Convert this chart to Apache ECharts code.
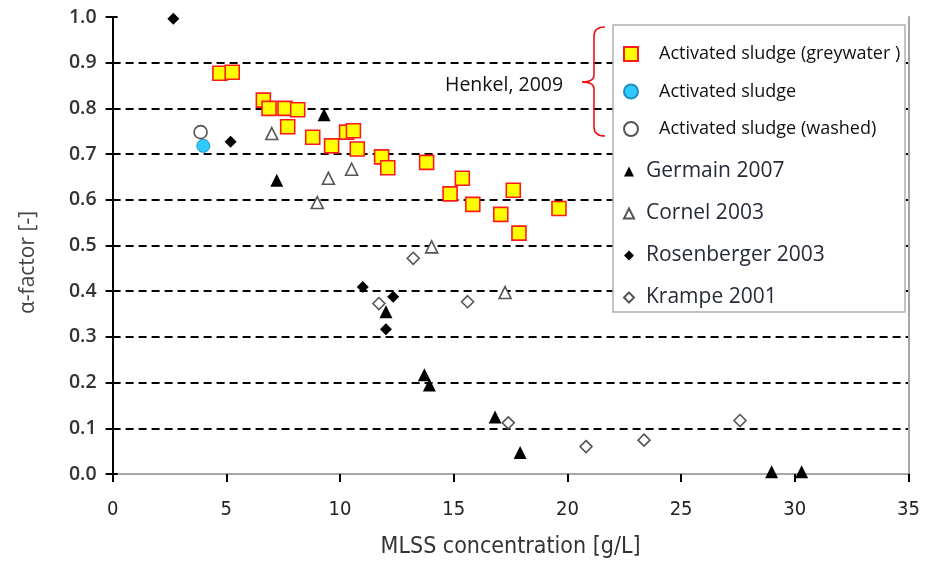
<!DOCTYPE html>
<html>
<head>
<meta charset="utf-8">
<script src="https://cdn.jsdelivr.net/npm/echarts@6/dist/echarts.min.js"></script>
<style>
  html, body { margin: 0; padding: 0; background: #fff; }
  #chart { width: 942px; height: 564px; }
</style>
</head>
<body>
<div id="chart"></div>
<script>
// x ticks / y ticks
var xTicks = [0, 5, 10, 15, 20, 25, 30, 35];
var yTicks = [0, 0.1, 0.2, 0.3, 0.4, 0.5, 0.6, 0.7, 0.8, 0.9, 1.0];

// Henkel, 2009
var greywater = [
  [4.72, 0.877], [5.26, 0.879], [6.63, 0.818], [6.88, 0.800], [7.58, 0.800],
  [8.14, 0.797], [7.70, 0.760], [8.80, 0.737], [9.63, 0.718], [10.29, 0.748],
  [10.59, 0.751], [10.76, 0.711], [11.83, 0.694], [12.10, 0.670], [13.81, 0.682],
  [15.38, 0.647], [14.84, 0.613], [15.84, 0.590], [17.62, 0.621], [17.07, 0.568],
  [17.87, 0.527], [19.63, 0.581]
];
var sludge = [[3.99, 0.718]];
var washed = [[3.87, 0.748]];

// literature
var germain = [
  [9.30, 0.786], [7.22, 0.643], [12.02, 0.355], [13.71, 0.217], [13.93, 0.195],
  [16.82, 0.125], [17.92, 0.047], [28.98, 0.005], [30.30, 0.005]
];
var cornel = [
  [7.00, 0.745], [9.49, 0.647], [10.51, 0.667], [9.00, 0.594], [14.03, 0.497],
  [17.26, 0.397]
];
var rosenberger = [
  [2.67, 0.996], [5.19, 0.727], [11.00, 0.409], [12.34, 0.388], [12.02, 0.317]
];
var krampe = [
  [13.22, 0.472], [15.61, 0.377], [11.71, 0.373], [17.40, 0.112], [20.82, 0.060],
  [23.37, 0.074], [27.59, 0.117]
];

var names = [
  "Activated sludge (greywater )",
  "Activated sludge",
  "Activated sludge (washed)",
  "Germain 2007",
  "Cornel 2003",
  "Rosenberger 2003",
  "Krampe 2001"
];

var chart = echarts.init(document.getElementById("chart"));

var bracketStyle = { fill: "none", stroke: "#e8141a", lineWidth: 1.6 };

var option = {
  animation: false,
  grid: { left: 112.6, right: 33.5, top: 17, bottom: 90 },

  // 图例：上面三个（Henkel）+ 下面四个（文献）
  legend: [
    {
      data: names.slice(0, 3),
      orient: "vertical",
      left: 623,
      top: 44,
      padding: 0,
      itemWidth: 14,
      itemHeight: 14,
      itemGap: 17.5,
      textStyle: {
        fontFamily: "Open Sans",
        fontSize: 18,
        color: "#111",
        lineHeight: 20,
        padding: [0, 0, 0, 16]
      }
    },
    {
      data: names.slice(3),
      orient: "vertical",
      left: 623,
      top: 161,
      padding: 0,
      itemWidth: 10,
      itemHeight: 10,
      itemGap: 21,
      textStyle: {
        fontFamily: "Open Sans",
        fontSize: 21,
        color: "#262a3a",
        lineHeight: 20,
        padding: [0, 0, 0, 7]
      }
    }
  ],

  xAxis: [
    {
      type: "value",
      min: 0,
      max: 35,
      interval: 5,
      name: "MLSS concentration [g/L]",
      nameLocation: "middle",
      nameGap: 62,
      nameTextStyle: {
        fontFamily: "Liberation Sans Narrow, DejaVu Sans Condensed, sans-serif",
        fontSize: 23,
        color: "#333"
      },
      axisLine: { lineStyle: { color: "#000", width: 2 } },
      axisTick: { length: 8, lineStyle: { color: "#000", width: 2 } },
      axisLabel: {
        margin: 26,
        fontFamily: "Liberation Sans Narrow, DejaVu Sans Condensed, sans-serif",
        fontSize: 20,
        color: "#222"
      },
      splitLine: { show: false }
    },
    {
      // 上边框
      type: "value",
      position: "top",
      min: 0,
      max: 35,
      interval: 5,
      axisLine: { show: true, lineStyle: { color: "#a6a6a6", width: 2 } },
      axisTick: { show: false },
      axisLabel: { show: false },
      splitLine: { show: false }
    }
  ],

  yAxis: [
    {
      type: "value",
      min: 0,
      max: 1,
      interval: 0.1,
      name: "α-factor [-]",
      nameLocation: "middle",
      nameGap: 74,
      nameTextStyle: {
        fontFamily: "Open Sans",
        fontSize: 21,
        color: "#444",
        padding: [0, 34, 0, 0]
      },
      axisLine: { show: true, lineStyle: { color: "#000", width: 2 } },
      axisTick: { show: true, length: 7, lineStyle: { color: "#000", width: 2 } },
      axisLabel: {
        margin: 16,
        fontFamily: "Open Sans",
        fontWeight: 600,
        fontSize: 19.5,
        color: "#333",
        formatter: function (v) { return v.toFixed(1); }
      },
      splitLine: {
        show: true,
        showMinLine: false,
        showMaxLine: false,
        lineStyle: { color: "#000", width: 2, type: [8, 5] }
      }
    },
    {
      // 内侧刻度
      type: "value",
      position: "left",
      min: 0,
      max: 1,
      interval: 0.1,
      axisLine: { show: false },
      axisTick: { show: true, inside: true, length: 5, lineStyle: { color: "#000", width: 2 } },
      axisLabel: { show: false },
      splitLine: { show: false }
    },
    {
      // 右边框
      type: "value",
      position: "right",
      min: 0,
      max: 1,
      interval: 0.1,
      axisLine: { show: true, lineStyle: { color: "#a6a6a6", width: 2 } },
      axisTick: { show: false },
      axisLabel: { show: false },
      splitLine: { show: false }
    }
  ],

  // 图例外框、Henkel 标注和红色括号
  graphic: [
    {
      type: "rect",
      z: 3,
      shape: { x: 613, y: 25, width: 292, height: 287 },
      style: { fill: "#fff", stroke: "#b0b0b0", lineWidth: 1.5 }
    },
    {
      type: "text",
      z: 5,
      x: 445,
      y: 75,
      style: {
        text: "Henkel, 2009",
        fontFamily: "Open Sans",
        fontSize: 19.5,
        fill: "#111"
      }
    },
    { type: "bezierCurve", z: 5, shape: { x1: 605, y1: 27, x2: 594, y2: 36, cpx1: 594, cpy1: 27 }, style: bracketStyle },
    { type: "line", z: 5, shape: { x1: 594, y1: 36, x2: 594, y2: 75 }, style: bracketStyle },
    { type: "bezierCurve", z: 5, shape: { x1: 594, y1: 75, x2: 582, y2: 82, cpx1: 594, cpy1: 82 }, style: bracketStyle },
    { type: "bezierCurve", z: 5, shape: { x1: 582, y1: 82, x2: 594, y2: 89, cpx1: 594, cpy1: 82 }, style: bracketStyle },
    { type: "line", z: 5, shape: { x1: 594, y1: 89, x2: 594, y2: 127 }, style: bracketStyle },
    { type: "bezierCurve", z: 5, shape: { x1: 594, y1: 127, x2: 605, y2: 136, cpx1: 594, cpy1: 136 }, style: bracketStyle }
  ],

  series: [
    {
      name: names[0],
      type: "scatter",
      symbol: "rect",
      symbolSize: 14,
      itemStyle: { color: "#ffff00", borderColor: "#ff1a1a", borderWidth: 1.6, opacity: 1 },
      data: greywater
    },
    {
      name: names[1],
      type: "scatter",
      symbol: "circle",
      symbolSize: 13,
      itemStyle: { color: "#2ecbff", borderColor: "#1f8fc8", borderWidth: 1, opacity: 1 },
      data: sludge
    },
    {
      name: names[2],
      type: "scatter",
      symbol: "circle",
      symbolSize: 13,
      itemStyle: { color: "#fff", borderColor: "#555", borderWidth: 1.6, opacity: 1 },
      data: washed
    },
    {
      name: names[3],
      type: "scatter",
      symbol: "triangle",
      symbolSize: 13,
      itemStyle: { color: "#000", opacity: 1 },
      data: germain
    },
    {
      name: names[4],
      type: "scatter",
      symbol: "triangle",
      symbolSize: 12,
      itemStyle: { color: "#fff", borderColor: "#555", borderWidth: 1.6, opacity: 1 },
      data: cornel
    },
    {
      name: names[5],
      type: "scatter",
      symbol: "diamond",
      symbolSize: 12,
      itemStyle: { color: "#000", opacity: 1 },
      data: rosenberger
    },
    {
      name: names[6],
      type: "scatter",
      symbol: "diamond",
      symbolSize: 12,
      itemStyle: { color: "#fff", borderColor: "#555", borderWidth: 1.6, opacity: 1 },
      data: krampe
    }
  ]
};

chart.setOption(option);
</script>
</body>
</html>
